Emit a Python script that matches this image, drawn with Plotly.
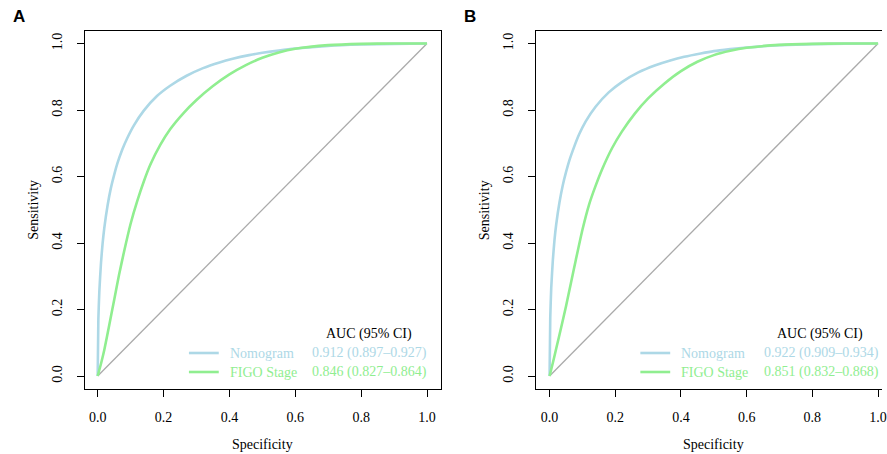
import plotly.graph_objects as go

W, H = 887, 454

# ---- data ----
spec_nom = [0, 0.002, 0.005, 0.01, 0.015, 0.02, 0.03, 0.04, 0.05, 0.06, 0.075, 0.09, 0.11, 0.14,
            0.18, 0.22, 0.27, 0.32, 0.37, 0.41, 0.46, 0.5, 0.55, 0.6, 0.7, 0.8, 0.9, 1.0]
nomogram_A = [0, 0.17, 0.255, 0.34, 0.40, 0.445, 0.513, 0.565, 0.605, 0.64, 0.682, 0.716, 0.754, 0.798,
              0.842, 0.873, 0.903, 0.926, 0.943, 0.954, 0.965, 0.972, 0.979, 0.985, 0.993, 0.997, 0.999, 1.0]
nomogram_B = [0, 0.175, 0.265, 0.35, 0.41, 0.455, 0.522, 0.573, 0.613, 0.648, 0.69, 0.727, 0.766, 0.81,
              0.853, 0.884, 0.913, 0.934, 0.95, 0.96, 0.97, 0.977, 0.983, 0.988, 0.995, 0.998, 0.9995, 1.0]

spec_figo = [0, 0.01, 0.02, 0.035, 0.05, 0.065, 0.08, 0.1, 0.12, 0.14, 0.16, 0.19, 0.22, 0.26, 0.3,
             0.35, 0.4, 0.45, 0.5, 0.55, 0.6, 0.7, 0.8, 0.9, 1.0]
figo_A = [0, 0.037, 0.078, 0.153, 0.229, 0.305, 0.374, 0.458, 0.526, 0.585, 0.636, 0.695, 0.742, 0.790, 0.830,
          0.872, 0.907, 0.935, 0.957, 0.973, 0.984, 0.995, 0.999, 1.0, 1.0]
figo_B = [0, 0.04, 0.082, 0.145, 0.21, 0.28, 0.35, 0.44, 0.515, 0.572, 0.622, 0.685, 0.735, 0.79, 0.835,
          0.88, 0.917, 0.945, 0.965, 0.978, 0.987, 0.996, 0.999, 1.0, 1.0]

diag = [0, 1]
ticks = [0.0, 0.2, 0.4, 0.6, 0.8, 1.0]
tick_text = ["0.0", "0.2", "0.4", "0.6", "0.8", "1.0"]

series_names = ["Nomogram", "FIGO Stage"]
auc_A = ["0.912 (0.897\u20130.927)", "0.846 (0.827\u20130.864)"]
auc_B = ["0.922 (0.909\u20130.934)", "0.851 (0.832\u20130.868)"]
legend_title = "AUC (95% CI)"
panel_labels = ["A", "B"]

BLUE = "#ADD8E6"
GREEN = "#90EE90"
GRAY = "#AAAAAA"
SERIF = "Liberation Serif, Times New Roman, serif"
FS = 14


def px(x):
    return x / W


def py(y):
    return 1 - y / H


fig = go.Figure()

panels = [
    ("x", "y", nomogram_A, figo_A),
    ("x2", "y2", nomogram_B, figo_B),
]
for xa, ya, nom, fg in panels:
    fig.add_trace(go.Scatter(x=diag, y=diag, mode="lines", xaxis=xa, yaxis=ya,
                             line=dict(color=GRAY, width=1.3), showlegend=False, hoverinfo="skip"))
    fig.add_trace(go.Scatter(x=spec_nom, y=nom, mode="lines", xaxis=xa, yaxis=ya,
                             line=dict(color=BLUE, width=2.6, shape="spline", smoothing=0.5),
                             showlegend=False, name=series_names[0]))
    fig.add_trace(go.Scatter(x=spec_figo, y=fg, mode="lines", xaxis=xa, yaxis=ya,
                             line=dict(color=GREEN, width=2.6, shape="spline", smoothing=0.5),
                             showlegend=False, name=series_names[1]))

ydom = [py(389), py(31)]
yrange = [-0.039, 1.0376]

common_axis = dict(
    showgrid=False, zeroline=False, showline=True, linecolor="black", linewidth=1,
    ticks="outside", ticklen=7, tickwidth=1, tickcolor="black",
    tickvals=ticks, ticktext=tick_text, ticklabeloverflow="allow",
    tickfont=dict(family=SERIF, size=FS, color="black"),
)

fig.update_layout(
    width=W, height=H,
    margin=dict(l=0, r=0, t=0, b=0),
    plot_bgcolor="white", paper_bgcolor="white",
    xaxis=dict(domain=[px(85), px(443)], range=[-0.040, 1.041], mirror=True,
               anchor="y", ticklabelstandoff=8, **common_axis),
    yaxis=dict(domain=ydom, range=yrange, mirror=True, anchor="x",
               tickangle=-90, ticklabelstandoff=9, **common_axis),
    xaxis2=dict(domain=[px(539), 1.0], range=[-0.0415, 1.012], mirror=True,
                anchor="y2", ticklabelstandoff=8, **common_axis),
    yaxis2=dict(domain=ydom, range=yrange, mirror=False, anchor="x2",
                tickangle=-90, ticklabelstandoff=9, **common_axis),
)

annotations = []
shapes = []
for i, (off, aucs) in enumerate([(0, auc_A), (454, auc_B)]):
    annotations.append(dict(x=px(19 + off), y=py(17), xref="paper", yref="paper",
                            text="<b>%s</b>" % panel_labels[i], showarrow=False,
                            font=dict(family="Liberation Sans, Arial, sans-serif", size=17, color="black"),
                            xanchor="center", yanchor="middle"))
    annotations.append(dict(x=px(264 + off), y=py(444), xref="paper", yref="paper",
                            text="Specificity", showarrow=False,
                            font=dict(family=SERIF, size=FS, color="black"),
                            xanchor="center", yanchor="middle"))
    annotations.append(dict(x=px(33 + off), y=py(210), xref="paper", yref="paper",
                            text="Sensitivity", showarrow=False, textangle=-90,
                            font=dict(family=SERIF, size=FS, color="black"),
                            xanchor="center", yanchor="middle"))
    annotations.append(dict(x=px(371 + off), y=py(334), xref="paper", yref="paper",
                            text=legend_title, showarrow=False,
                            font=dict(family=SERIF, size=FS, color="black"),
                            xanchor="center", yanchor="middle"))
    for j, (name, col, yy) in enumerate([(series_names[0], BLUE, 353), (series_names[1], GREEN, 372)]):
        shapes.append(dict(type="line", xref="paper", yref="paper",
                           x0=px(190 + off), x1=px(220 + off), y0=py(yy), y1=py(yy),
                           line=dict(color=col, width=2.6)))
        annotations.append(dict(x=px(229 + off), y=py(yy), xref="paper", yref="paper",
                                text=name, showarrow=False,
                                font=dict(family=SERIF, size=FS, color=col),
                                xanchor="left", yanchor="middle"))
        annotations.append(dict(x=px(312 + off), y=py(yy), xref="paper", yref="paper",
                                text=aucs[j], showarrow=False,
                                font=dict(family=SERIF, size=FS, color=col),
                                xanchor="left", yanchor="middle"))

fig.update_layout(annotations=annotations, shapes=shapes)
fig.write_html("out.html")
